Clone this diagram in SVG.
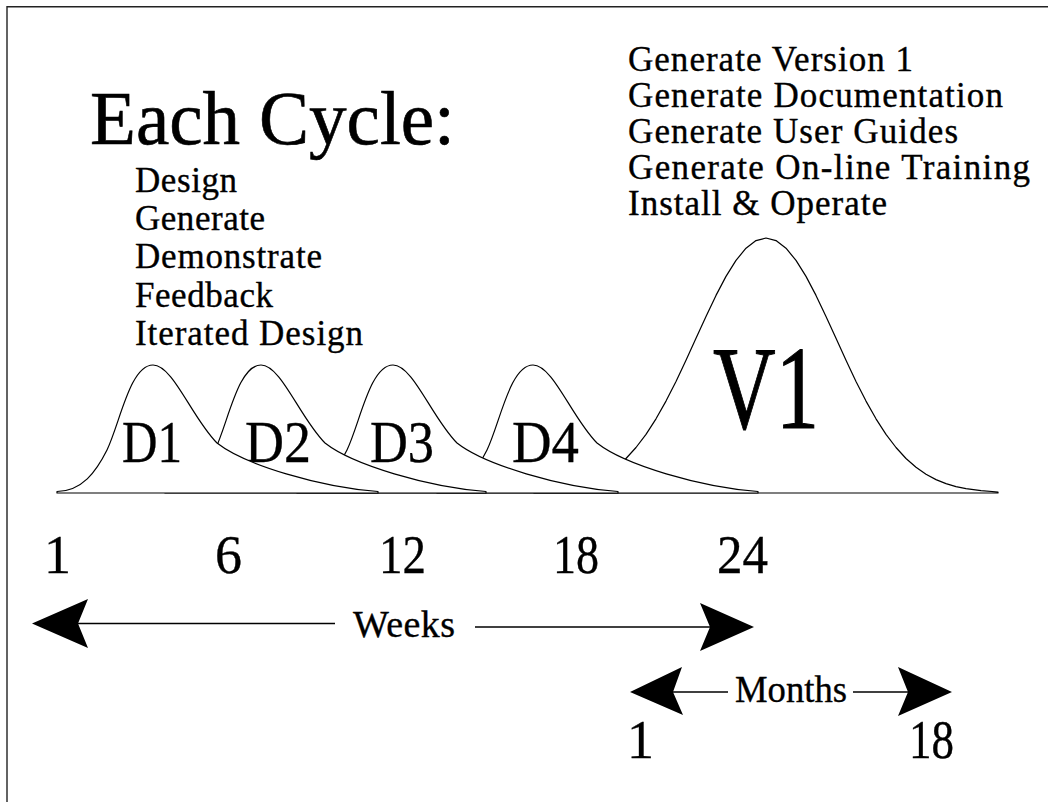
<svg xmlns="http://www.w3.org/2000/svg" xmlns:xlink="http://www.w3.org/1999/xlink" width="1048" height="802" viewBox="0 0 1048 802">
<style>
text{font-family:"Liberation Serif","Times New Roman",serif;fill:#000;stroke:#000;stroke-width:0.35}
.bump{fill:#fff;stroke:#000;stroke-width:1.2;stroke-linejoin:round}
.line{stroke:#000;stroke-width:1.4;fill:none}
.head{fill:#000;stroke:none}
.list{font-size:35px}
.num{font-size:54px}
.lbl{font-size:60px}
</style>
<defs>
<path id="bump" d="M57,493 L57,491.5 C82,491 96,472 107,450 C120,423 130,365 153,365 C173,365 192,418 217,443 C245,465 320,487 378,491.5 L378,493 Z"/>
</defs>
<rect x="0" y="0" width="1048" height="802" fill="#fff"/>
<path d="M7,802 V6.8 H1048" fill="none" stroke="#222" stroke-width="1.4"/>

<g id="V1">
<path class="bump" d="M534,492 L551,490.7 L566,488.7 L576,486.6 L586,483.6 L596,479.6 L606,474.3 L616,467.3 L626,458.5 L636,447.5 L646,434.3 L656,418.8 L666,401.1 L676,381.4 L686,360.3 L696,338.3 L706,316.4 L716,295.4 L726,276.4 L736,260.4 L746,248.2 L756,240.6 L766,238 L776,240.6 L786,248.2 L796,260.4 L806,276.4 L816,295.4 L826,316.4 L836,338.3 L846,360.3 L856,381.4 L866,401.1 L876,418.8 L886,434.3 L896,447.5 L906,458.5 L916,467.3 L926,474.3 L936,479.6 L946,483.6 L956,486.6 L966,488.7 L981,490.7 L998,492 L998,493 L534,493 Z"/>
<text x="713" y="428" font-size="118" textLength="106" lengthAdjust="spacingAndGlyphs" style="stroke-width:1">V1</text>
</g>
<g id="D4">
<use href="#bump" x="380" class="bump"/>
<text class="lbl" x="512" y="462" textLength="67" lengthAdjust="spacingAndGlyphs">D4</text>
</g>
<g id="D3">
<use href="#bump" x="240" class="bump"/>
<text class="lbl" x="370" y="462" textLength="64" lengthAdjust="spacingAndGlyphs">D3</text>
</g>
<g id="D2">
<use href="#bump" x="108" class="bump"/>
<text class="lbl" x="245" y="462" textLength="66" lengthAdjust="spacingAndGlyphs">D2</text>
</g>
<g id="D1">
<use href="#bump" x="0" class="bump"/>
<text class="lbl" x="122" y="462" textLength="60" lengthAdjust="spacingAndGlyphs">D1</text>
</g>

<g id="cycle-text">
<text x="90" y="144" font-size="76" textLength="365" lengthAdjust="spacingAndGlyphs" style="stroke-width:0.6">Each Cycle:</text>
<text class="list" x="135" y="192" textLength="102">Design</text>
<text class="list" x="135" y="230" textLength="130">Generate</text>
<text class="list" x="135" y="268" textLength="187">Demonstrate</text>
<text class="list" x="135" y="307" textLength="138">Feedback</text>
<text class="list" x="135" y="345" textLength="228">Iterated Design</text>
</g>

<g id="version-text">
<text class="list" x="628" y="70.5" textLength="285">Generate Version 1</text>
<text class="list" x="628" y="106.7" textLength="375">Generate Documentation</text>
<text class="list" x="628" y="142.9" textLength="330">Generate User Guides</text>
<text class="list" x="628" y="179.1" textLength="402">Generate On-line Training</text>
<text class="list" x="628" y="215.3" textLength="259">Install &amp; Operate</text>
</g>

<g id="week-numbers">
<text class="num" x="44" y="573">1</text>
<text class="num" x="215" y="573">6</text>
<text class="num" x="379" y="573" textLength="47" lengthAdjust="spacingAndGlyphs">12</text>
<text class="num" x="553" y="573" textLength="46" lengthAdjust="spacingAndGlyphs">18</text>
<text class="num" x="717" y="573" textLength="51" lengthAdjust="spacingAndGlyphs">24</text>
</g>

<g id="month-numbers">
<text class="num" x="627" y="758">1</text>
<text class="num" x="909" y="758" textLength="45" lengthAdjust="spacingAndGlyphs">18</text>
</g>

<g id="connectors">
<line class="line" x1="78" y1="623.5" x2="335" y2="623.5"/>
<polygon class="head" points="32,623.5 88,599 78,623.5 88,648"/>
<text x="353" y="637" font-size="38" textLength="102">Weeks</text>
<line class="line" x1="475" y1="627" x2="712" y2="627"/>
<polygon class="head" points="754,627 700,603 710,627 700,651"/>

<line class="line" x1="673" y1="692" x2="728" y2="692"/>
<polygon class="head" points="630,692 682,667 673,692 683,715"/>
<text x="735" y="702" font-size="38" textLength="112" lengthAdjust="spacingAndGlyphs">Months</text>
<line class="line" x1="853" y1="692" x2="909" y2="692"/>
<polygon class="head" points="952,692 898,667 908,692 898,716"/>
</g>
</svg>
